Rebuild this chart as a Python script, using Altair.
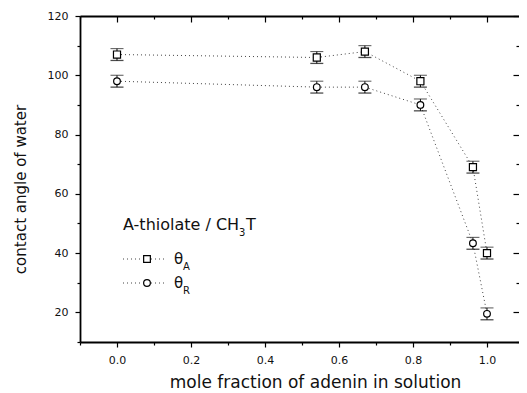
import altair as alt
import pandas as pd

# ---- data ----
x_frac = [0.0, 0.54, 0.67, 0.82, 0.962, 1.0]
theta_a = [107, 106, 108, 98, 69, 40]
theta_r = [98, 96, 96, 90, 43.3, 19.5]
err_a = [2, 2, 2, 2, 2, 2]
err_r = [2, 2, 2, 2, 2, 2]
series_names = ["θA", "θR"]
series_shapes = ["square", "circle"]

x_major = [0.0, 0.2, 0.4, 0.6, 0.8, 1.0]
x_minor = [-0.1, 0.1, 0.3, 0.5, 0.7, 0.9]
y_major = [20, 40, 60, 80, 100, 120]
y_minor = [10, 30, 50, 70, 90, 110]

legend_title = "A-thiolate / CH"
legend_sub = "3"
legend_title_end = "T"
legend_symbol = "θ"
legend_subs = ["A", "R"]

rows = []
for name, ys_, es in [(series_names[0], theta_a, err_a), (series_names[1], theta_r, err_r)]:
    for xv, yv, ev in zip(x_frac, ys_, es):
        rows.append({"series": name, "x": xv, "y": yv, "lo": yv - ev, "hi": yv + ev})
df = pd.DataFrame(rows)

FONT = "DejaVu Sans"
xs = alt.Scale(domain=[-0.1, 1.0865], nice=False, zero=False)
ys = alt.Scale(domain=[10, 120], nice=False, zero=False)


def ax(orient, values, size, inward=False, labels=False, title=None, domain=False, **kw):
    d = dict(orient=orient, values=values, tickSize=size, grid=False,
             labels=labels, domain=domain, tickColor="black", tickWidth=1.2,
             domainColor="black", domainWidth=1.8)
    d["title"] = title if title is not None else None
    if inward:
        d["offset"] = -size
    d.update(kw)
    return alt.Axis(**d)


base = alt.Chart(df)

lines = base.mark_line(strokeDash=[1, 3], color="#444", strokeWidth=1).encode(
    x=alt.X("x:Q", scale=xs, axis=ax("bottom", x_major, 5, labels=True, domain=True,
                                     format=".1f",
                                     labelFont=FONT, labelFontSize=11, labelColor="#111",
                                     labelPadding=7,
                                     title="mole fraction of adenin in solution",
                                     titleFont=FONT, titleFontSize=17, titleFontWeight="normal",
                                     titleColor="#111", titleX=235, titleY=32,
                                     titleBaseline="top", titleAlign="center")),
    y=alt.Y("y:Q", scale=ys, axis=ax("left", y_major, 5, labels=True, domain=True,
                                     labelFont=FONT, labelFontSize=11, labelColor="#111",
                                     labelPadding=7,
                                     title="contact angle of water",
                                     titleFont=FONT, titleFontSize=15, titleFontWeight="normal",
                                     titleColor="#111", titleX=-60, titleY=173,
                                     titleAngle=-90, titleBaseline="middle", titleAlign="center")),
    detail="series:N",
)

rules = base.mark_rule(color="black", strokeWidth=1).encode(
    x=alt.X("x:Q", scale=xs, axis=ax("bottom", x_minor, 3)),
    y=alt.Y("lo:Q", scale=ys, axis=ax("left", y_minor, 3)),
    y2="hi:Q",
)

caps_lo = base.mark_tick(orient="horizontal", size=13, thickness=1.3, color="black").encode(
    x=alt.X("x:Q", scale=xs, axis=ax("top", x_major, 6, inward=True)),
    y=alt.Y("lo:Q", scale=ys, axis=ax("right", y_major, 6, inward=True)),
)

caps_hi = base.mark_tick(orient="horizontal", size=13, thickness=1.1, color="#222").encode(
    x=alt.X("x:Q", scale=xs, axis=ax("top", x_minor, 3, inward=True)),
    y=alt.Y("hi:Q", scale=ys, axis=ax("right", y_minor, 3, inward=True)),
)

# invisible layer carrying only the top frame line
frame_top = base.mark_point(opacity=0).encode(
    x=alt.X("x:Q", scale=xs, axis=alt.Axis(orient="top", values=[], ticks=False, labels=False,
                                           domain=True, domainColor="black", domainWidth=1.8,
                                           grid=False, title=None)),
    y=alt.Y("y:Q", scale=ys, axis=None),
)

points = base.mark_point(filled=True, fill="white", stroke="black", strokeWidth=1.2,
                         opacity=1).encode(
    x=alt.X("x:Q", scale=xs, axis=None),
    y=alt.Y("y:Q", scale=ys, axis=None),
    shape=alt.Shape("series:N", scale=alt.Scale(domain=series_names, range=series_shapes),
                    legend=None),
    size=alt.Size("series:N", scale=alt.Scale(domain=series_names, range=[50, 45]),
                  legend=None),
)

# ---- hand-drawn legend (pixel positions inside the plot area) ----
leg_df = pd.DataFrame({
    "series": series_names,
    "shape": series_shapes,
    "sym": [legend_symbol, legend_symbol],
    "sub": legend_subs,
    "ly": [243, 267],
})
leg = alt.Chart(leg_df)
leg_lines = leg.mark_rule(strokeDash=[1, 3], color="#444", strokeWidth=1).encode(
    x=alt.value(43), x2=alt.value(87), y=alt.Y("ly:Q", scale=None))
leg_pts = leg.mark_point(filled=True, fill="white", stroke="black", strokeWidth=1.2,
                         opacity=1, size=45).encode(
    x=alt.value(67), y=alt.Y("ly:Q", scale=None),
    shape=alt.Shape("shape:N", scale=None))
leg_sym = leg.mark_text(font=FONT, fontSize=15, align="left", baseline="middle",
                        color="#111").encode(
    x=alt.value(94), y=alt.Y("ly:Q", scale=None), text="sym:N")
leg_sub = leg.mark_text(font=FONT, fontSize=10, align="left", baseline="middle",
                        color="#111", dx=0, dy=8).encode(
    x=alt.value(103), y=alt.Y("ly:Q", scale=None), text="sub:N")

ttl_df = pd.DataFrame({"t": [legend_title], "s": [legend_sub], "e": [legend_title_end]})
ttl = alt.Chart(ttl_df)
ttl_main = ttl.mark_text(font=FONT, fontSize=16, align="left", baseline="alphabetic",
                         color="#111").encode(x=alt.value(43), y=alt.value(214), text="t:N")
ttl_sub = ttl.mark_text(font=FONT, fontSize=10, align="left", baseline="alphabetic",
                        color="#111").encode(x=alt.value(159), y=alt.value(220), text="s:N")
ttl_end = ttl.mark_text(font=FONT, fontSize=16, align="left", baseline="alphabetic",
                        color="#111").encode(x=alt.value(166), y=alt.value(214), text="e:N")

chart = alt.layer(
    lines, rules, caps_lo, caps_hi, frame_top, points,
    leg_lines, leg_pts, leg_sym, leg_sub, ttl_main, ttl_sub, ttl_end,
).resolve_axis(x="independent", y="independent").properties(
    width=439, height=326,
    autosize=alt.AutoSizeParams(type="none"),
    padding={"left": 72, "top": 8, "right": 0, "bottom": 52},
    background="white",
).configure_view(stroke=None)

chart.save("out.html", embed_options={"renderer": "svg", "actions": False})
